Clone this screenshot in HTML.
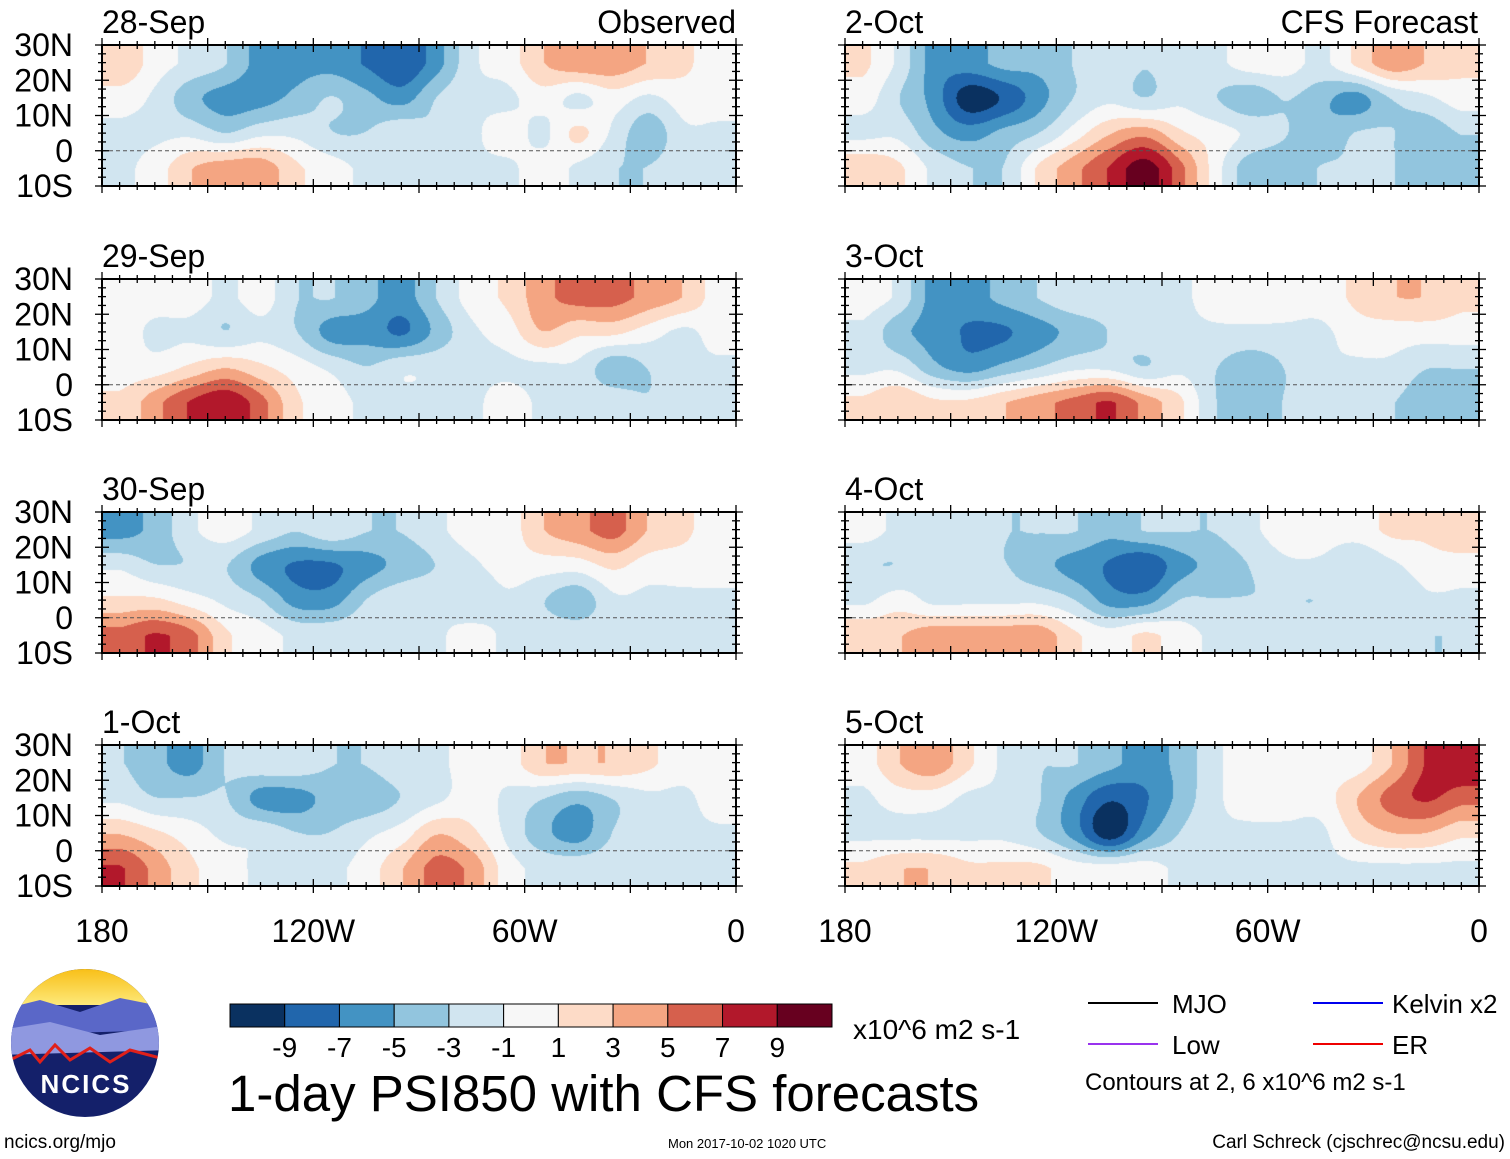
<!DOCTYPE html>
<html><head><meta charset="utf-8">
<style>
body{margin:0;background:#fff;width:1510px;height:1159px;overflow:hidden;position:relative;font-family:"Liberation Sans",sans-serif;}
.t{position:absolute;white-space:nowrap;color:#000;line-height:1;}
canvas{position:absolute;}
</style></head>
<body>
<svg id="frame" width="1510" height="1159" style="position:absolute;left:0;top:0"></svg>
<script>
// Grid: 4 latitude rows (25N,15N,5N,5S) x 18 longitude columns (175W..5W), values in units of ~1.45 x10^6 m2 s-1
const lonCenters=[175,165,155,145,135,125,115,105,95,85,75,65,55,45,35,25,15,5];
const latCenters=[25,15,5,-5];
const panelTitles=["28-Sep","29-Sep","30-Sep","1-Oct","2-Oct","3-Oct","4-Oct","5-Oct"];
const p28Sep=[[2,0,-1,-2,-4,-4,-4,-5,-6,-4,-1,0,2,3,3,2,1,0],[0,-1,-3,-4,-4,-3,-2,-3,-4,-2,-1,-1,0,-1,0,-1,0,0],[-1,-1,-1,-2,-1,-1,-2,-2,-1,-2,-1,0,-1,1,-1,-3,-1,-1],[-1,0,2,3,3,1,0,-1,-1,-2,-1,-1,0,-1,-2,-2,-1,-1]];
const p29Sep=[[0,0,0,-1,0,-2,-2,-3,-4,-2,0,1,3,4,4,3,2,0],[0,-1,-1,-2,-1,-2,-4,-4,-5,-3,-1,0,2,1,1,0,-1,0],[0,0,1,2,1,0,-1,-2,-1,-1,-1,-1,-1,-1,-3,-2,-1,-1],[1,3,5,6,4,1,0,-1,-1,-1,-1,0,-1,-1,-1,-2,-1,-1]];
const p30Sep=[[-4,-3,-1,0,-1,-2,-1,-2,-2,-1,0,0,2,3,4,2,1,0],[-1,-2,-2,-2,-4,-5,-5,-4,-3,-2,-1,0,0,0,1,0,0,0],[1,1,0,-1,-2,-4,-4,-2,-1,-1,-2,-1,-2,-3,-1,-1,-1,-1],[4,5,4,1,0,-1,-1,-1,-2,-1,0,-1,-1,-1,-1,-1,-1,-1]];
const p1Oct=[[-2,-3,-4,-2,-1,-1,-2,-2,-1,-1,0,0,2,2,2,1,0,0],[-1,-2,-2,-2,-4,-4,-3,-3,-2,-1,0,-1,-2,-3,-2,-1,-1,0],[2,1,0,-1,-1,-2,-2,-1,0,2,1,-1,-3,-4,-2,-1,-1,-1],[5,3,1,0,-1,-1,-1,0,2,4,3,0,-1,-1,-1,-1,-1,-2]];
const p2Oct=[[1,-1,-4,-4,-3,-3,-2,-1,-2,-1,-1,0,0,-1,1,3,2,1],[0,-2,-4,-7,-6,-4,-2,-1,-2,-1,-2,-3,-2,-3,-4,-2,-1,0],[-1,-1,-3,-4,-3,-2,0,2,3,1,0,-1,-2,-3,-2,-2,-3,-2],[2,1,-1,-2,-2,1,3,5,7,4,0,-3,-3,-2,-2,-2,-3,-3]];
const p3Oct=[[0,-1,-4,-4,-3,-2,-1,-1,-1,-1,0,0,0,0,1,2,2,1],[-1,-3,-4,-5,-5,-4,-3,-2,-1,-1,-1,-1,-1,-1,0,0,0,0],[-1,-1,-3,-4,-3,-2,-1,-1,-2,-1,-2,-3,-2,-1,-1,-1,-2,-2],[1,2,1,1,2,3,4,5,3,1,-2,-3,-2,-2,-2,-2,-3,-3]];
const p4Oct=[[0,-1,-1,-1,-2,-2,-2,-3,-2,-2,-2,-1,0,0,0,1,1,2],[-2,-2,-1,-2,-2,-3,-4,-5,-6,-4,-3,-2,-1,-1,-2,-1,0,0],[-1,0,-1,-1,-1,-1,-2,-4,-4,-2,-2,-2,-2,-2,-1,-2,-1,-1],[2,2,3,3,3,3,1,0,1,0,-1,-1,-1,-1,-1,-1,-2,-2]];
const p5Oct=[[0,2,3,1,-1,-2,-2,-3,-4,-3,-1,0,0,0,0,2,5,6],[-1,0,0,-1,-1,-2,-4,-6,-5,-3,-1,0,0,0,2,4,5,4],[-1,-1,-1,-1,-1,-2,-4,-7,-4,-2,-1,-1,-1,-1,1,2,2,1],[1,2,2,1,1,1,0,0,0,-1,-1,-1,-1,-1,-1,-1,-1,-1]];
const panelData=[p28Sep,p29Sep,p30Sep,p1Oct,p2Oct,p3Oct,p4Oct,p5Oct];
const cbLabels=["-9","-7","-5","-3","-1","1","3","5","7","9"];
const cbLevels=[-9,-7,-5,-3,-1,1,3,5,7,9];
const cbColors=["#0a3160","#2166ac","#4393c3","#92c5de","#d1e5f0","#f7f7f7","#fddbc7","#f4a582","#d6604d","#b2182b","#67001f"];
const xTicks=["180","120W","60W","0"];
const yTicks=["30N","20N","10N","0","10S"];
const UNIT=1.45;

const W=634,H=141;
const colX=[102,845],rowY=[45,279,512,745];
const lonToX=(lon)=>W*(180-lon)/180;
const latToY=(lat)=>H*(30-lat)/40;
function hexRGB(h){return [parseInt(h.substr(1,2),16),parseInt(h.substr(3,2),16),parseInt(h.substr(5,2),16)];}
const rgbs=cbColors.map(hexRGB);
function colorIdx(v){let i=0;while(i<cbLevels.length&&v>=cbLevels[i])i++;return i;}
function cr(p0,p1,p2,p3,t){return 0.5*((2*p1)+(-p0+p2)*t+(2*p0-5*p1+4*p2-p3)*t*t+(-p0+3*p1-3*p2+p3)*t*t*t);}
function gv(g,r,c){r=Math.max(0,Math.min(3,r));c=Math.max(0,Math.min(17,c));return g[r][c];}
function sample(g,lon,lat){
  let fx=(175-lon)/10, fy=(25-lat)/10;
  fx=Math.max(0,Math.min(17,fx)); fy=Math.max(0,Math.min(3,fy));
  const x0=Math.min(16,Math.floor(fx)),y0=Math.min(2,Math.floor(fy));
  const tx=fx-x0,ty=fy-y0;
  const rows=[];
  for(let k=-1;k<=2;k++){const r=y0+k;rows.push(cr(gv(g,r,x0-1),gv(g,r,x0),gv(g,r,x0+1),gv(g,r,x0+2),tx));}
  return cr(rows[0],rows[1],rows[2],rows[3],ty)*UNIT;
}
const svg=document.getElementById('frame');
const NS="http://www.w3.org/2000/svg";
function el(tag,attrs,parent){const e=document.createElementNS(NS,tag);for(const k in attrs)e.setAttribute(k,attrs[k]);(parent||svg).appendChild(e);return e;}
function txt(s,x,y,size,anchor){const e=el('text',{x:x,y:y,'font-size':size,'text-anchor':anchor||'start','font-family':'Liberation Sans, sans-serif',fill:'#000'});e.textContent=s;return e;}

panelData.forEach((g,p)=>{
  const col=p<4?0:1,row=p%4;
  const X=colX[col],Y=rowY[row];
  const cv=document.createElement('canvas');
  cv.width=W;cv.height=H;cv.style.left=X+'px';cv.style.top=Y+'px';
  
  
  document.body.insertBefore(cv,svg);
  const ctx=cv.getContext('2d');const img=ctx.createImageData(W,H);
  for(let py=0;py<H;py++){const lat=30-40*py/H;for(let px=0;px<W;px++){const lon=180-180*px/W;const c=rgbs[colorIdx(sample(g,lon,lat))];const o=(py*W+px)*4;img.data[o]=c[0];img.data[o+1]=c[1];img.data[o+2]=c[2];img.data[o+3]=255;}}
  ctx.putImageData(img,0,0);
  const gr=el('g',{transform:`translate(${X},${Y})`});
  
  
  el('line',{x1:0,x2:W,y1:latToY(0),y2:latToY(0),stroke:'#555','stroke-width':1,'stroke-dasharray':'4,3'},gr);
  el('rect',{x:0,y:0,width:W,height:H,fill:'none',stroke:'#000','stroke-width':2},gr);
  for(let lon=180;lon>=0;lon-=5){const x=lonToX(lon);const L=(lon%30===0)?7:4;
    el('line',{x1:x,x2:x,y1:-L,y2:L,stroke:'#000','stroke-width':1.3},gr);
    el('line',{x1:x,x2:x,y1:H-L,y2:H+L,stroke:'#000','stroke-width':1.3},gr);}
  for(let lat=30;lat>=-10;lat-=2.5){const y=latToY(lat);const L=(lat%10===0)?7:4;
    el('line',{x1:-L,x2:L,y1:y,y2:y,stroke:'#000','stroke-width':1.3},gr);
    el('line',{x1:W-L,x2:W+L,y1:y,y2:y,stroke:'#000','stroke-width':1.3},gr);}
  const tt=txt(panelTitles[p],X,Y-12,32);
  
  
  if(col===0){yTicks.forEach((s,i)=>{const t=txt(s,73,Y+latToY(30-10*i)+11,32,'end');
    
    });}
});
const o1=txt("Observed",736,33,32,'end');


const o2=txt("CFS Forecast",1478,33,32,'end');


colX.forEach(X=>{xTicks.forEach((s,i)=>{const t=txt(s,X+W*i/3,942,32,'middle');
  
  });});
const cbX=230,cbY=1004,cbW=602,cbH=23,bw=cbW/11;
cbColors.forEach((c,i)=>{const r=el('rect',{x:cbX+i*bw,y:cbY,width:bw,height:cbH,fill:c,stroke:'#000','stroke-width':1});
  
  });
cbLabels.forEach((s,i)=>{const t=txt(s,cbX+(i+1)*bw,1057,28,'middle');
  
  });
</script>
<div class="t" style="left:853px;top:1016px;font-size:28px">x10^6 m2 s-1</div>
<div class="t" style="left:228px;top:1068px;font-size:51px">1-day PSI850 with CFS forecasts</div>
<svg style="position:absolute;left:0;top:0" width="1510" height="1159">
<line x1="1088" y1="1003" x2="1158" y2="1003" stroke="#000" stroke-width="2"/>
<line x1="1313" y1="1003" x2="1383" y2="1003" stroke="#0000ee" stroke-width="2"/>
<line x1="1088" y1="1044" x2="1158" y2="1044" stroke="#9933ee" stroke-width="2"/>
<line x1="1313" y1="1044" x2="1383" y2="1044" stroke="#ee0000" stroke-width="2"/>
<g>
<defs><clipPath id="lc"><circle cx="85" cy="1043" r="74"/></clipPath>
<linearGradient id="sky" x1="0" y1="0" x2="0" y2="1"><stop offset="0" stop-color="#f7b500"/><stop offset="1" stop-color="#fde97a"/></linearGradient></defs>
<g clip-path="url(#lc)">
<rect x="0" y="960" width="170" height="170" fill="#14206a"/>
<rect x="0" y="960" width="170" height="45" fill="url(#sky)"/>
<path d="M0 1010 L40 1000 L80 1012 L120 998 L170 1008 L170 1030 L0 1035Z" fill="#5a67c8"/>
<path d="M0 1030 L50 1022 L100 1035 L170 1025 L170 1050 L0 1055Z" fill="#8f98e0"/>
<path d="M10 1060 L30 1050 L40 1062 L55 1045 L70 1060 L90 1048 L110 1062 L130 1050 L160 1058" fill="none" stroke="#e0201a" stroke-width="3"/>
</g>
<text x="86" y="1093" font-size="26" font-weight="bold" fill="#fff" text-anchor="middle" font-family="Liberation Sans, sans-serif" letter-spacing="2">NCICS</text>
</g>
</svg>
<div class="t" style="left:1172px;top:991px;font-size:26px">MJO</div>
<div class="t" style="left:1392px;top:991px;font-size:26px">Kelvin x2</div>
<div class="t" style="left:1172px;top:1032px;font-size:26px">Low</div>
<div class="t" style="left:1392px;top:1032px;font-size:26px">ER</div>
<div class="t" style="left:1085px;top:1071px;font-size:24px">Contours at 2, 6 x10^6 m2 s-1</div>
<div class="t" style="left:4px;top:1133px;font-size:19px">ncics.org/mjo</div>
<div class="t" style="left:668px;top:1137px;font-size:13px">Mon 2017-10-02 1020 UTC</div>
<div class="t" style="right:5px;top:1133px;font-size:19px">Carl Schreck (cjschrec@ncsu.edu)</div>
</body></html>
